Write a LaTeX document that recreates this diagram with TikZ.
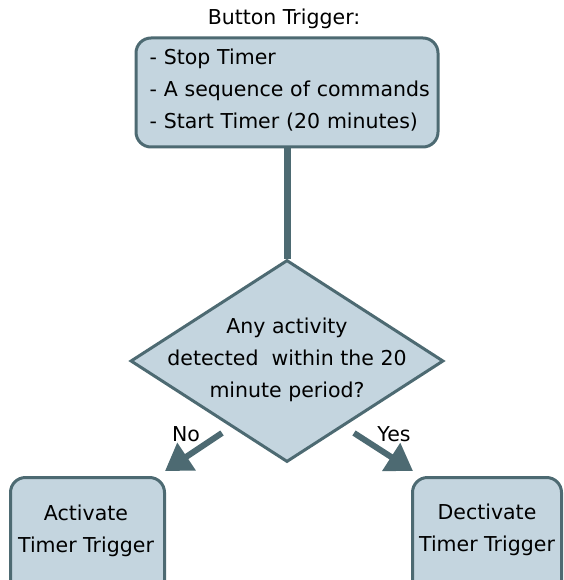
\documentclass[tikz,border=0pt]{standalone}
\usepackage{fontspec}
\setmainfont{DejaVu Sans}
\usetikzlibrary{shapes.geometric,arrows.meta,positioning}
\definecolor{boxfill}{HTML}{C4D5DF}
\definecolor{boxline}{HTML}{4D6A72}
\tikzset{
  flowbox/.style={draw=boxline, fill=boxfill, line width=3pt, rounded corners=15pt},
  flowtext/.style={font=\fontsize{20.5}{32}\selectfont, text=black},
  flowarrow/.style={draw=boxline, line width=6pt, -{Triangle[length=26pt,width=32pt]}}
}
\begin{document}
\begin{tikzpicture}[x=1pt,y=-1pt]
    \useasboundingbox (0,0) rectangle (563,580);

    % Draw the trigger box and its title
    \node[flowtext] (title) at (284,19) {Button Trigger:};
    \node[flowbox, minimum width=302pt, minimum height=109pt] (trigger) at (287,92.5) {};
    \node[flowtext, text width=285pt, align=left, anchor=west] (steps) at (146,90)
        {- Stop Timer\\- A sequence of commands\\- Start Timer (20 minutes)};

    % Draw decision diamond
    \node[diamond, draw=boxline, fill=boxfill, line width=3pt, inner sep=0pt,
          minimum width=313pt, minimum height=202pt] (check) at (287,361) {};
    \node[flowtext, align=center] (question) at (287,360)
        {Any activity\\detected\ \ within the 20\\minute period?};

    % Connect trigger to decision
    \draw[boxline, line width=7pt] (trigger.south) -- (check.north);

    % Draw outcome boxes
    \node[flowbox, minimum width=154pt, minimum height=140pt, anchor=north west] (activate) at (9,476) {};
    \node[flowtext, align=center] (activatetext) at (86,531) {Activate\\Timer Trigger};
    \node[flowbox, minimum width=149pt, minimum height=140pt, anchor=north west] (deactivate) at (411,476) {};
    \node[flowtext, align=center] (deactivatetext) at (487,530) {Dectivate\\Timer Trigger};

    % Arrows with labels
    \coordinate (nostart) at (222,433);
    \coordinate (notip) at (165,471);
    \coordinate (yesstart) at (354,433);
    \coordinate (yestip) at (413,471);
    \draw[flowarrow] (nostart) -- (notip);
    \draw[flowarrow] (yesstart) -- (yestip);
    \node[flowtext] (nolabel) at (186,434) {No};
    \node[flowtext] (yeslabel) at (394,434) {Yes};
\end{tikzpicture}
\end{document}
